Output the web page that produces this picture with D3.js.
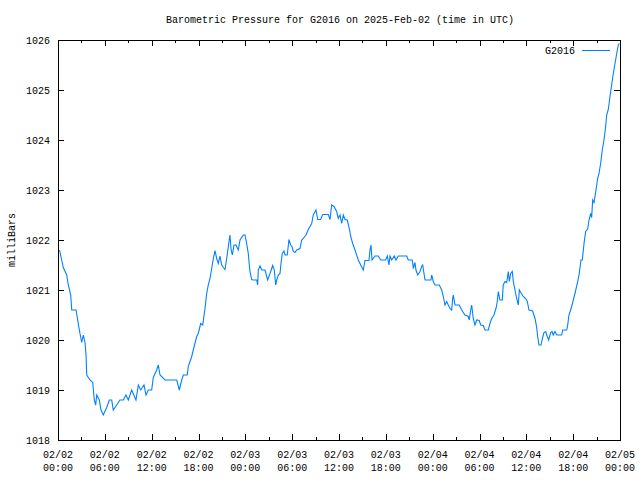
<!DOCTYPE html>
<html>
<head>
<meta charset="utf-8">
<script src="https://cdn.jsdelivr.net/npm/d3@7"></script>
<style>
  html, body { margin: 0; padding: 0; background: #fff; }
  svg text { font-family: "Liberation Mono", "DejaVu Sans Mono", monospace; font-size: 10px; fill: #000; }
</style>
</head>
<body>
<svg id="chart" width="640" height="480"></svg>
<script>
// ---- data ----
const titleText = "Barometric Pressure for G2016 on 2025-Feb-02 (time in UTC)";
const seriesName = "G2016";
const yLabel = "milliBars";
const startDate = "2025-02-02T00:00:00Z";
const yTicks = [1018, 1019, 1020, 1021, 1022, 1023, 1024, 1025, 1026];
const xTickDates = ["02/02","02/02","02/02","02/02","02/03","02/03","02/03","02/03","02/04","02/04","02/04","02/04","02/05"];
const xTickTimes = ["00:00","06:00","12:00","18:00","00:00","06:00","12:00","18:00","00:00","06:00","12:00","18:00","00:00"];
// hours since 2025-02-02 00:00 UTC
const hours = [
  0.2,0.47,0.68,1.11,1.32,1.63,1.76,2.31,2.47,2.73,3.04,3.24,3.46,3.59,3.68,4.10,4.45,4.65,4.83,4.96,
  5.29,5.51,5.80,6.24,6.57,6.88,7.08,7.52,7.94,8.37,8.71,9.01,9.44,9.99,10.29,10.59,11.02,11.27,11.57,12.0,
  12.21,12.64,12.85,13.07,13.71,15.21,15.54,15.85,16.05,16.56,16.69,17.13,17.33,17.77,17.97,18.28,18.54,18.83,19.05,19.25,
  19.47,19.69,19.9,20.11,20.33,20.54,20.75,20.97,21.18,21.39,21.61,21.82,22.03,22.16,22.33,22.55,22.8,23.1,23.32,23.74,
  23.96,24.17,24.38,24.51,24.6,24.81,25.02,25.46,25.58,25.66,25.88,26.1,26.52,26.74,26.86,27.16,27.5,27.71,27.89,28.02,
  28.22,28.44,28.57,28.73,28.95,29.08,29.37,29.59,29.81,29.98,30.14,30.36,30.58,31.0,31.22,31.42,31.77,32.07,32.5,32.71,
  33.05,33.27,33.65,33.91,34.63,34.85,35.06,35.36,35.7,35.91,36.13,36.34,36.55,36.77,37.06,37.32,37.5,37.75,38.05,38.47,
  38.78,39.11,39.33,39.84,39.97,40.1,40.23,40.61,41.03,41.34,41.98,42.19,42.4,42.53,42.75,43.08,43.3,43.59,44.67,44.88,
  45.39,45.52,45.73,45.86,46.08,46.38,46.59,46.72,46.89,47.02,47.78,47.87,48.08,48.3,48.85,49.16,49.36,49.58,49.8,50.0,
  50.22,50.44,50.56,50.64,50.86,51.41,51.72,52.14,52.56,52.69,52.87,53.0,53.2,53.42,53.64,53.97,54.15,54.49,54.7,55.13,
  55.34,55.56,55.85,56.11,56.28,56.41,56.62,56.92,57.04,57.26,57.48,57.69,57.82,58.0,58.2,58.33,58.55,58.76,58.97,59.1,
  59.28,59.61,59.92,60.12,60.34,60.81,61.11,61.33,61.45,61.62,61.88,62.09,62.26,62.48,62.68,62.86,63.12,63.29,63.45,63.67,
  63.89,64.53,64.66,65.17,65.3,65.46,65.68,65.94,66.23,66.53,66.78,67.0,67.17,67.39,67.6,67.86,68.03,68.24,68.37,68.5,
  68.67,68.92,69.14,69.31,69.52,69.73,69.95,70.16,70.29,70.5,70.72,70.93,71.14,71.36,71.58,71.79,71.92
];
const pressure = [
  1021.8,1021.6,1021.45,1021.3,1021.1,1020.9,1020.6,1020.6,1020.45,1020.2,1019.95,1020.1,1019.95,1019.7,1019.3,1019.2,1019.15,1018.8,1018.7,1018.9,
  1018.8,1018.6,1018.5,1018.65,1018.8,1018.8,1018.6,1018.7,1018.8,1018.8,1018.9,1018.8,1019.0,1018.8,1019.1,1019.0,1019.1,1018.9,1019.0,1019.0,
  1019.25,1019.4,1019.5,1019.3,1019.2,1019.2,1019.0,1019.2,1019.3,1019.3,1019.47,1019.67,1019.8,1020.07,1020.13,1020.33,1020.3,1020.63,1020.93,1021.1,
  1021.23,1021.43,1021.63,1021.79,1021.63,1021.53,1021.68,1021.5,1021.45,1021.41,1021.63,1021.87,1022.1,1021.83,1021.7,1021.9,1021.9,1021.8,1022.0,1022.1,
  1022.1,1021.93,1021.73,1021.5,1021.37,1021.21,1021.2,1021.2,1021.1,1021.4,1021.48,1021.4,1021.4,1021.27,1021.2,1021.33,1021.49,1021.4,1021.1,1021.2,
  1021.3,1021.33,1021.53,1021.73,1021.78,1021.7,1021.7,1022.01,1021.9,1021.87,1021.77,1021.75,1021.8,1021.83,1022.0,1022.03,1022.1,1022.21,1022.33,1022.5,
  1022.6,1022.41,1022.41,1022.51,1022.51,1022.41,1022.7,1022.67,1022.57,1022.43,1022.5,1022.33,1022.5,1022.41,1022.4,1022.23,1022.07,1021.93,1021.8,1021.6,
  1021.5,1021.4,1021.59,1021.59,1021.8,1021.9,1021.6,1021.68,1021.68,1021.6,1021.6,1021.68,1021.5,1021.68,1021.6,1021.68,1021.6,1021.68,1021.68,1021.6,
  1021.6,1021.43,1021.55,1021.4,1021.3,1021.37,1021.47,1021.5,1021.33,1021.2,1021.2,1021.3,1021.17,1021.1,1021.1,1021.0,1020.87,1020.7,1020.77,1020.7,
  1020.63,1020.6,1020.83,1020.9,1020.7,1020.7,1020.6,1020.5,1020.47,1020.4,1020.6,1020.7,1020.43,1020.3,1020.4,1020.39,1020.3,1020.29,1020.2,1020.2,
  1020.33,1020.43,1020.5,1020.63,1020.77,1020.97,1020.8,1020.8,1021.1,1021.17,1021.15,1021.37,1021.17,1021.33,1021.37,1021.17,1021.0,1020.83,1020.7,1021.0,
  1020.95,1020.87,1020.83,1020.77,1020.6,1020.58,1020.43,1020.25,1020.07,1019.9,1019.9,1020.05,1020.15,1020.17,1020.07,1020.0,1020.15,1020.17,1020.1,1020.17,
  1020.1,1020.1,1020.2,1020.2,1020.3,1020.5,1020.6,1020.75,1020.93,1021.13,1021.33,1021.6,1021.6,1021.93,1022.17,1022.22,1022.4,1022.53,1022.45,1022.8,
  1022.75,1023.0,1023.23,1023.33,1023.53,1023.8,1024.0,1024.27,1024.5,1024.61,1024.87,1025.1,1025.33,1025.53,1025.73,1025.9,1025.93
];

// ---- layout ----
const L = 58, R = 620, T = 40, B = 440;
const lineColor = "rgb(0,128,255)";
const svg = d3.select("#chart");
const t0 = new Date(startDate);
const hr = 3600 * 1000;
const data = hours.map((h, i) => ({ t: new Date(t0.getTime() + h * hr), v: pressure[i] }));

const x = d3.scaleUtc().domain([t0, new Date(t0.getTime() + 72 * hr)]).range([L, R]);
const y = d3.scaleLinear().domain([1018, 1026]).range([B, T]);

const majorTicks = d3.utcHour.every(6).range(t0, new Date(t0.getTime() + 72 * hr + 1));
const minorTicks = d3.utcHour.every(3).range(t0, new Date(t0.getTime() + 72 * hr + 1));

const g = svg.append("g").attr("shape-rendering", "crispEdges");
// ticks
const majLen = 6, minLen = 3;
minorTicks.forEach(d => {
  const isMajor = d.getUTCHours() % 6 === 0;
  const len = isMajor ? majLen : minLen;
  const xp = Math.round(x(d)) + 0.5;
  g.append("line").attr("x1", xp).attr("x2", xp).attr("y1", B).attr("y2", B - len).attr("stroke", "#000");
  g.append("line").attr("x1", xp).attr("x2", xp).attr("y1", T).attr("y2", T + len).attr("stroke", "#000");
});
yTicks.forEach(v => {
  const yp = Math.round(y(v)) + 0.5;
  g.append("line").attr("x1", L).attr("x2", L + majLen).attr("y1", yp).attr("y2", yp).attr("stroke", "#000");
  g.append("line").attr("x1", R).attr("x2", R - majLen).attr("y1", yp).attr("y2", yp).attr("stroke", "#000");
  svg.append("text").attr("x", L - 8).attr("y", y(v)).attr("dy", "0.35em").attr("text-anchor", "end").text(v);
});
majorTicks.forEach((d, i) => {
  const t = svg.append("text").attr("text-anchor", "middle").attr("x", x(d));
  t.append("tspan").attr("x", x(d)).attr("y", 458).text(xTickDates[i]);
  t.append("tspan").attr("x", x(d)).attr("y", 471).text(xTickTimes[i]);
});
// border
g.append("rect").attr("x", L + 0.5).attr("y", T + 0.5).attr("width", R - L).attr("height", B - T)
  .attr("fill", "none").attr("stroke", "#000");

// line
const line = d3.line().x(d => x(d.t)).y(d => y(d.v));
svg.append("path").datum(data).attr("d", line).attr("fill", "none")
  .attr("stroke", lineColor).attr("stroke-width", 1.1);

// title
svg.append("text").attr("x", (L + R) / 2 + 1).attr("y", 23).attr("text-anchor", "middle").text(titleText);
// y label
svg.append("text").attr("transform", "translate(15,240) rotate(-90)").attr("text-anchor", "middle").text(yLabel);
// legend
svg.append("text").attr("x", 575).attr("y", 50).attr("dy", "0.35em").attr("text-anchor", "end").text(seriesName);
svg.append("line").attr("x1", 582).attr("x2", 610).attr("y1", 50.5).attr("y2", 50.5)
  .attr("stroke", lineColor).attr("shape-rendering", "crispEdges");
</script>
</body>
</html>
